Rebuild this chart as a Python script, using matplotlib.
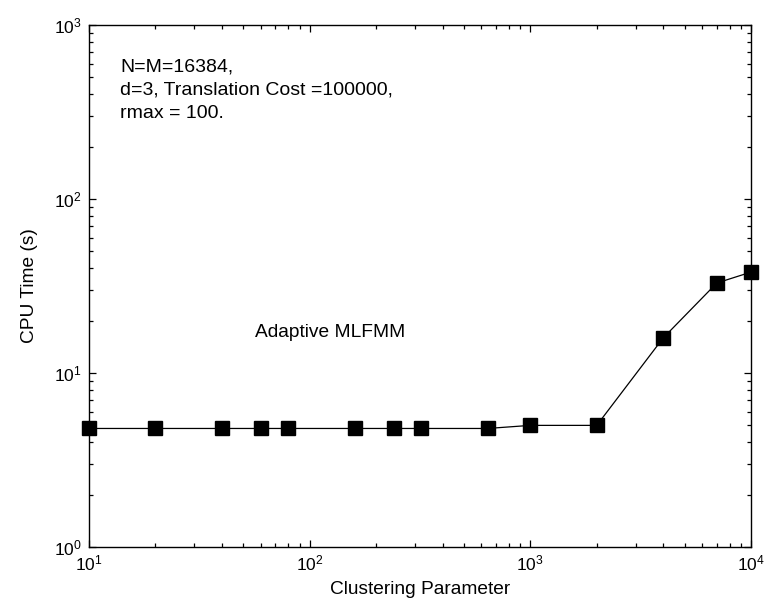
import numpy as np
import matplotlib
matplotlib.use('Agg')
import matplotlib.pyplot as plt

# clustering parameter vs cpu time
cluster_param = [10, 20, 40, 60, 80, 160, 240, 320, 640, 1000, 2000, 4000, 7000, 10000]
cpu_time = [4.8, 4.8, 4.8, 4.8, 4.8, 4.8, 4.8, 4.8, 4.8, 5.0, 5.0, 15.9, 32.9, 38.0]

info_lines = ['N=M=16384,', 'd=3, Translation Cost =100000,', 'rmax = 100.']
curve_label = 'Adaptive MLFMM'

plt.rcParams['font.family'] = ['Liberation Sans', 'DejaVu Sans']
plt.rcParams['mathtext.fontset'] = 'custom'
plt.rcParams['mathtext.rm'] = 'Liberation Sans'
plt.rcParams['mathtext.it'] = 'Liberation Sans'
plt.rcParams['font.size'] = 13.8

fig = plt.figure(figsize=(7.69, 6.11), dpi=100)
ax = fig.add_axes([89/769, 1 - 547/611, (751-89)/769, (547-25)/611])

ax.plot(cluster_param, cpu_time, color='black', lw=0.9, marker='s', ms=9.5,
        markerfacecolor='black', markeredgecolor='black', clip_on=False)
ax.set_xscale('log')
ax.set_yscale('log')
ax.set_xlim(10, 1e4)
ax.set_ylim(1, 1e3)

ax.tick_params(which='both', direction='in', top=True, right=True, labelsize=12.5)
ax.tick_params(which='major', length=5, width=0.9, pad=5)
ax.tick_params(which='minor', length=3, width=0.9)
for s in ax.spines.values():
    s.set_linewidth(1)

ax.set_xlabel('Clustering Parameter', labelpad=5)
ax.set_ylabel('CPU Time (s)', labelpad=12)

# text block in the upper left corner
ax.text(31/662, 0.935, '\n'.join(info_lines), transform=ax.transAxes,
        va='top', ha='left', linespacing=1.45, fontsize=14)
ax.text(56.5, 17, curve_label, ha='left', va='center')

fig.savefig('out.png', dpi=100)
